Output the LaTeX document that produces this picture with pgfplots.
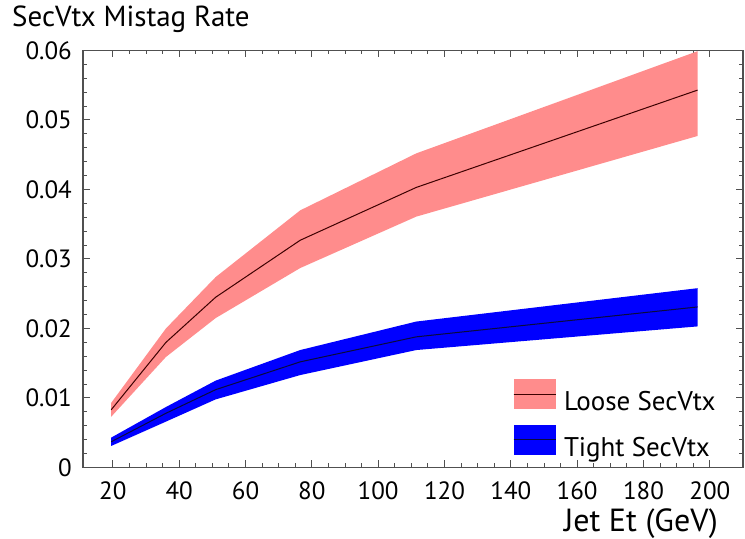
\documentclass[border=0pt]{standalone}
\usepackage{pgfplots}
\pgfplotsset{compat=1.18}
\usepackage{pgfplotstable}
\usepgfplotslibrary{fillbetween}
\usepackage{fontspec}
\setmainfont{PT Sans}
\definecolor{lpink}{RGB}{255,140,140}
\definecolor{tblue}{RGB}{0,0,255}
\definecolor{lline}{RGB}{60,0,0}
\definecolor{tline}{RGB}{10,10,60}
\definecolor{axgray}{RGB}{80,80,80}

\pgfplotstableread{
x     lc      lu      ll      tc      tu      tl
19.5  0.0083  0.0093  0.0073  0.0037  0.0043  0.0031
36    0.0180  0.0200  0.0159  0.0078  0.0087  0.0066
51    0.0245  0.0274  0.0215  0.0112  0.0125  0.0098
76.5  0.0327  0.0370  0.0287  0.0152  0.0169  0.0133
111.5 0.0403  0.0452  0.0361  0.0188  0.0210  0.0169
196.3 0.0543  0.0599  0.0477  0.0231  0.0258  0.0203
}\mistag

\begin{document}
\begin{tikzpicture}
\begin{axis}[
  name=ax,
  scale only axis,
  width=660pt, height=417pt,
  xmin=11, xmax=210,
  ymin=0, ymax=0.06,
  xtick={20,40,...,200},
  ytick={0,0.01,0.02,0.03,0.04,0.05,0.06},
  yticklabels={0,0.01,0.02,0.03,0.04,0.05,0.06},
  scaled y ticks=false,
  minor x tick num=3,
  minor y tick num=4,
  tick align=inside,
  major tick length=7pt,
  minor tick length=4pt,
  axis line style={draw=axgray, line width=1.2pt},
  every tick/.style={draw=axgray, line width=1pt},
  /pgf/number format/assume math mode=true,
  tick label style={font=\fontsize{25}{25}\selectfont, text=black},
  xticklabel style={anchor=base, inner sep=0pt, yshift=-32.5pt},
  yticklabel style={anchor=east, inner sep=0pt, xshift=-11pt},
  legend cell align=left,
  legend style={draw=none, fill=none, inner sep=0pt, outer sep=0pt,
    at={(rel axis cs:0.6515,0.2122)}, anchor=north west,
    row sep=12.5pt, column sep=8pt,
    nodes={inner sep=0pt, font=\fontsize{27}{27}\selectfont}},
]
\addplot[name path=LU, draw=none, forget plot] table[x=x,y=lu]{\mistag};
\addplot[name path=LL, draw=none, forget plot] table[x=x,y=ll]{\mistag};
\addplot[fill=lpink, draw=none,
  legend image code/.code={
    \fill[lpink] (0pt,-7.3pt) rectangle (42pt,22.7pt);
    \draw[lline, line width=1pt] (0pt,7.7pt) -- (42pt,7.7pt);}
  ] fill between[of=LU and LL];
\addlegendentry{Loose SecVtx}
\addplot[name path=TU, draw=none, forget plot] table[x=x,y=tu]{\mistag};
\addplot[name path=TL, draw=none, forget plot] table[x=x,y=tl]{\mistag};
\addplot[fill=tblue, draw=none,
  legend image code/.code={
    \fill[tblue] (0pt,-7.3pt) rectangle (42pt,22.7pt);
    \draw[tline, line width=1pt] (0pt,7.7pt) -- (42pt,7.7pt);}
  ] fill between[of=TU and TL];
\addlegendentry{Tight SecVtx}
\addplot[lline, line width=1pt, forget plot] table[x=x,y=lc]{\mistag};
\addplot[tline, line width=1pt, forget plot] table[x=x,y=tc]{\mistag};
\end{axis}
\node[anchor=base west, inner sep=0pt, font=\fontsize{29}{29}\selectfont]
  at ([shift={(-71pt,23.5pt)}]ax.north west) {SecVtx Mistag Rate};
\node[anchor=base east, inner sep=0pt, font=\fontsize{32}{32}\selectfont]
  at ([shift={(-25pt,-64pt)}]ax.south east) {Jet Et (GeV)};
\pgfresetboundingbox
\path ([shift={(-83pt,-71.5pt)}]ax.south west) rectangle ([shift={(2pt,50.5pt)}]ax.north east);
\end{tikzpicture}
\end{document}
